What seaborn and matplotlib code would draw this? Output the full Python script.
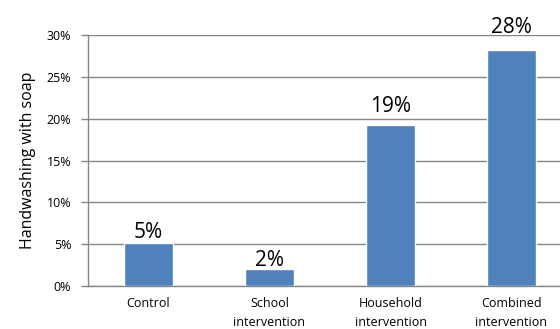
import matplotlib
matplotlib.use("Agg")
import matplotlib.pyplot as plt
import seaborn as sns
import pandas as pd

categories = ["Control", "School\nintervention", "Household\nintervention", "Combined\nintervention"]
values = [5.1, 2.0, 19.3, 28.2]
labels = ["5%", "2%", "19%", "28%"]
yticks = [0, 5, 10, 15, 20, 25, 30]
ytick_labels = ["0%", "5%", "10%", "15%", "20%", "25%", "30%"]

sns.set_theme(style="white")
plt.rcParams['font.family'] = ['Open Sans', 'DejaVu Sans']
plt.rcParams['text.color'] = 'black'
plt.rcParams['axes.labelcolor'] = 'black'
plt.rcParams['xtick.color'] = 'black'
plt.rcParams['ytick.color'] = 'black'

df = pd.DataFrame({"cat": categories, "val": values})

fig = plt.figure(figsize=(5.6, 3.29), dpi=100)
ax = fig.add_axes([88/560, 43/329, 484/560, 251/329])

sns.barplot(data=df, x="cat", y="val", color="#4f81bd", width=0.4, ax=ax, saturation=1, zorder=3)

ax.set_ylim(0, 30)
ax.set_xlim(-0.5, 3.5)
ax.set_yticks(yticks)
ax.set_yticklabels(ytick_labels, fontsize=9)
ax.yaxis.grid(True, color="#868686", linewidth=1, zorder=0)
ax.set_axisbelow(True)

ax.set_xticks([0, 1, 2, 3])
ax.set_xticklabels(categories, fontsize=9, linespacing=1.55)
ax.set_xticks([-0.5, 0.5, 1.5, 2.5, 3.5], minor=True)
ax.tick_params(axis="x", which="major", length=0, pad=8)
ax.tick_params(axis="x", which="minor", length=5, color="#868686", width=1, direction="out")
ax.tick_params(axis="y", length=5, color="#868686", labelcolor="black", width=1, direction="out", pad=7, left=True)

for s in ["top", "right"]:
    ax.spines[s].set_visible(False)
for s in ["left", "bottom"]:
    ax.spines[s].set_color("#868686")
    ax.spines[s].set_linewidth(1)

ax.set_xlabel("")
ax.set_ylabel("Handwashing with soap", fontsize=11.5, labelpad=8)

for i, (v, t) in enumerate(zip(values, labels)):
    ax.text(i, v * 1.06 + 0.3, t, ha="center", va="baseline", fontsize=15, color="black")

fig.savefig("out.png", dpi=100)
